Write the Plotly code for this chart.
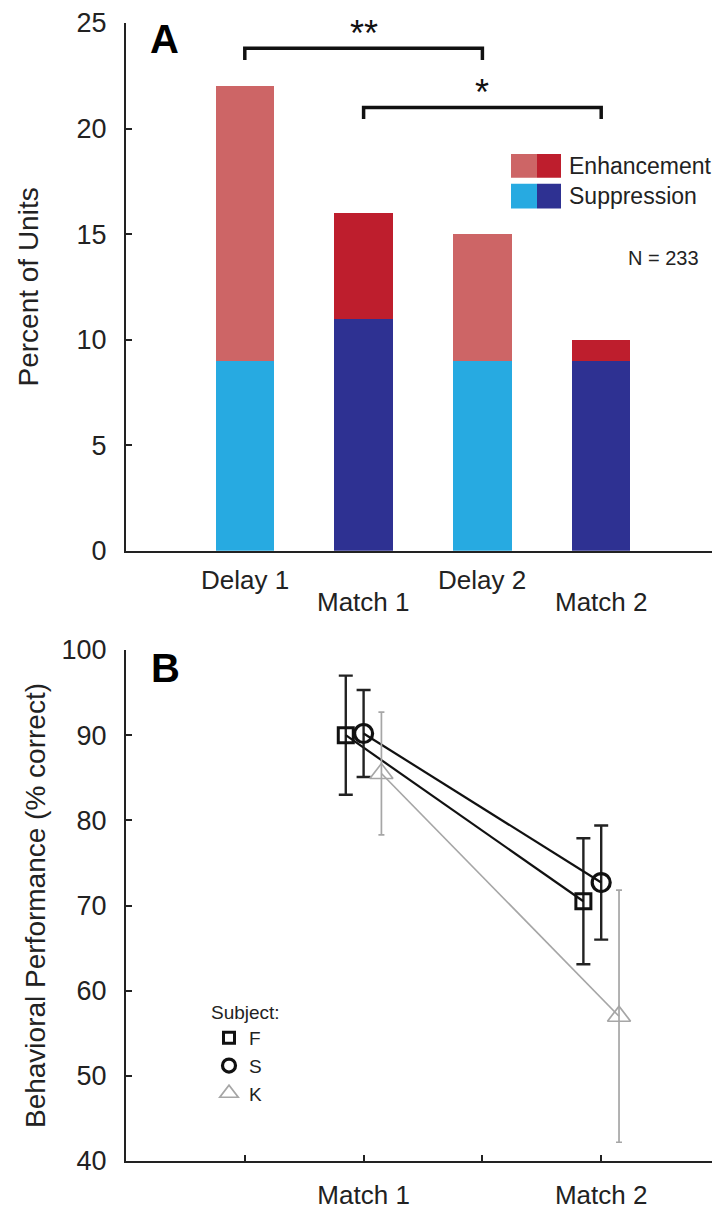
import plotly.graph_objects as go

# ---------------- data ----------------
epochs = ["Delay 1", "Match 1", "Delay 2", "Match 2"]
suppression = [9, 11, 9, 9]
enhancement = [13, 5, 6, 1]

conditions = ["Match 1", "Match 2"]
subjects = ["F", "S", "K"]
perf_F = [90.0, 70.5]
err_F = [7.0, 7.4]
perf_S = [90.2, 72.7]
err_S = [5.1, 6.7]
perf_K = [85.5, 57.0]
err_K = [7.2, 14.8]

yticks_A = [0, 5, 10, 15, 20, 25]
yticks_B = [40, 50, 60, 70, 80, 90, 100]

# ---------------- styles ----------------
FONT = "Liberation Sans, Arial, sans-serif"
TXT = "#222222"
LIGHT_RED = "#CD6566"
DARK_RED = "#BE1E2D"
LIGHT_BLUE = "#27AAE1"
DARK_BLUE = "#2E3192"
GREY = "#A6A6A6"

# the page body has an 8px margin: figure is placed at (8, 8) in the window
OFF = 8
W, H = 720 - OFF, 1216 - OFF
ML, MR, MT, MB = 126 - OFF, 0, 14 - OFF, 55
PH = H - MT - MB


def py(px):
    """window pixel row -> paper y"""
    return (1161 - px) / PH


def xd(px):
    return (px - 126) / ((W - ML - MR) / 5)


def yd(px):
    return (546 - px) / (532 / 25)


xpos_A = [i + 1 for i in range(len(epochs))]
sup_colors = [LIGHT_BLUE if i % 2 == 0 else DARK_BLUE for i in range(len(epochs))]
enh_colors = [LIGHT_RED if i % 2 == 0 else DARK_RED for i in range(len(epochs))]

fig = go.Figure()

fig.add_trace(go.Bar(x=xpos_A, y=suppression, marker=dict(color=sup_colors, line=dict(width=0)),
                     width=0.49, showlegend=False, xaxis="x", yaxis="y", name="Suppression"))
fig.add_trace(go.Bar(x=xpos_A, y=enhancement, marker=dict(color=enh_colors, line=dict(width=0)),
                     width=0.49, showlegend=False, xaxis="x", yaxis="y", name="Enhancement"))

# ---------------- panel B ----------------
cond_pos = {"Match 1": 2, "Match 2": 4}
offsets = {"F": -0.15, "S": 0.0, "K": 0.15}
series = {"F": (perf_F, err_F), "S": (perf_S, err_S), "K": (perf_K, err_K)}
sty = {
    "F": dict(symbol="square-open", size=15, lsize=11, color="#111111", lw=3.0, line=2.2, ecol="#222222", eth=2.4, cap=7),
    "S": dict(symbol="circle-open", size=18, lsize=13, color="#111111", lw=3.2, line=2.2, ecol="#222222", eth=2.4, cap=7),
    "K": dict(symbol="triangle-up-open", size=20, lsize=17, color=GREY, lw=1.7, line=1.7, ecol=GREY, eth=1.7, cap=3),
}
for s in subjects:
    vals, errs = series[s]
    xs = [cond_pos[c] + offsets[s] for c in conditions]
    st = sty[s]
    fig.add_trace(go.Scatter(
        x=xs, y=vals, mode="lines+markers", xaxis="x2", yaxis="y2", showlegend=False,
        line=dict(color=st["color"], width=st["line"]),
        marker=dict(symbol=st["symbol"], size=st["size"], color=st["color"],
                    line=dict(color=st["color"], width=st["lw"])),
        error_y=dict(type="data", array=errs, visible=True, color=st["ecol"],
                     thickness=st["eth"], width=st["cap"]),
        name=s))
for s in subjects:
    st = sty[s]
    fig.add_trace(go.Scatter(
        x=[None], y=[None], mode="markers", xaxis="x2", yaxis="y2", name=s, showlegend=True,
        legendgroup=s,
        marker=dict(symbol=st["symbol"], size=st["lsize"], color=st["color"],
                    line=dict(color=st["color"], width=st["lw"]))))

TICKFONT = dict(family=FONT, size=27, color=TXT)
axis_common = dict(showline=True, linecolor=TXT, linewidth=2, showgrid=False, zeroline=False,
                   ticks="inside", tickcolor=TXT, tickwidth=2, ticklen=6, tickfont=TICKFONT)

fig.update_layout(
    width=W, height=H, autosize=False,
    margin=dict(l=ML, r=MR, t=MT, b=MB),
    paper_bgcolor="white", plot_bgcolor="white",
    barmode="stack",
    font=dict(family=FONT, color=TXT),
    xaxis=dict(domain=[0, 1], range=[0, 5], anchor="y", showline=True, linecolor=TXT, linewidth=2,
               showgrid=False, zeroline=False, showticklabels=False, ticks=""),
    yaxis=dict(domain=[py(546), 1], range=[0, 25], tickvals=yticks_A, anchor="x",
               title=dict(text="Percent of Units", font=dict(size=28, family=FONT, color=TXT), standoff=30),
               ticklabelstandoff=12, **axis_common),
    xaxis2=dict(domain=[0, 1], range=[0, 5], anchor="y2", tickvals=[1, 2, 3, 4, 5],
                ticktext=["", "Match 1", "", "Match 2", ""], ticklabelstandoff=10,
                **{**axis_common, "tickfont": dict(family=FONT, size=26, color=TXT)}),
    yaxis2=dict(domain=[0, py(646)], range=[40, 100], tickvals=yticks_B, anchor="x2",
                title=dict(text="Behavioral Performance (% correct)", font=dict(size=28, family=FONT, color=TXT),
                           standoff=8),
                ticklabelstandoff=12, **axis_common),
    legend=dict(x=(209 - 126) / (W - ML - MR), y=py(993), xanchor="left", yanchor="top",
                bgcolor="rgba(0,0,0,0)", font=dict(family=FONT, size=19, color=TXT),
                title=dict(text="Subject:", font=dict(family=FONT, size=19, color=TXT)),
                traceorder="normal", tracegroupgap=4, itemwidth=30),
)

# category labels panel A (staggered)
for i, lab in enumerate(epochs):
    fig.add_annotation(x=xpos_A[i], y=py(575) if i % 2 == 0 else py(598), xref="x", yref="paper",
                       text=lab, showarrow=False, font=dict(family=FONT, size=26, color=TXT),
                       xanchor="center", yanchor="middle")

# significance brackets
brackets = [(0, 2, 23.8, "**"), (1, 3, 21.0, "*")]
for a, b, yb, star in brackets:
    xa, xb = xpos_A[a], xpos_A[b]
    fig.add_shape(type="path", xref="x", yref="y",
                  path=f"M {xa},{yb - 0.55} L {xa},{yb} L {xb},{yb} L {xb},{yb - 0.55}",
                  line=dict(color="#111111", width=3.5))
    fig.add_annotation(x=(xa + xb) / 2, y=yb, xref="x", yref="y", text=star, showarrow=False,
                       yanchor="bottom", yshift=-8, font=dict(family=FONT, size=36, color="#111111"))

# legend panel A (two-tone swatches)
rows = [("Enhancement", LIGHT_RED, DARK_RED, 146, 170), ("Suppression", LIGHT_BLUE, DARK_BLUE, 176, 201)]
for name, c1, c2, top, bot in rows:
    fig.add_shape(type="rect", xref="x", yref="y", x0=xd(511), x1=xd(537), y0=yd(bot), y1=yd(top),
                  fillcolor=c1, line=dict(width=0))
    fig.add_shape(type="rect", xref="x", yref="y", x0=xd(537), x1=xd(561), y0=yd(bot), y1=yd(top),
                  fillcolor=c2, line=dict(width=0))
    fig.add_annotation(x=xd(567), y=yd((top + bot) / 2), xref="x", yref="y", text=name, showarrow=False,
                       xanchor="left", yanchor="middle", font=dict(family=FONT, size=23, color=TXT))

fig.add_annotation(x=xd(626), y=yd(251), xref="x", yref="y", text="N = 233", showarrow=False,
                   xanchor="left", yanchor="middle", font=dict(family=FONT, size=20, color=TXT))

# panel letters
fig.add_annotation(x=xd(164), y=yd(30), xref="x", yref="y", text="<b>A</b>", showarrow=False,
                   font=dict(family=FONT, size=40, color="#000000"))
fig.add_annotation(x=xd(165), y=py(664), xref="x", yref="paper", text="<b>B</b>", showarrow=False,
                   font=dict(family=FONT, size=40, color="#000000"))

fig.write_html("out.html")
